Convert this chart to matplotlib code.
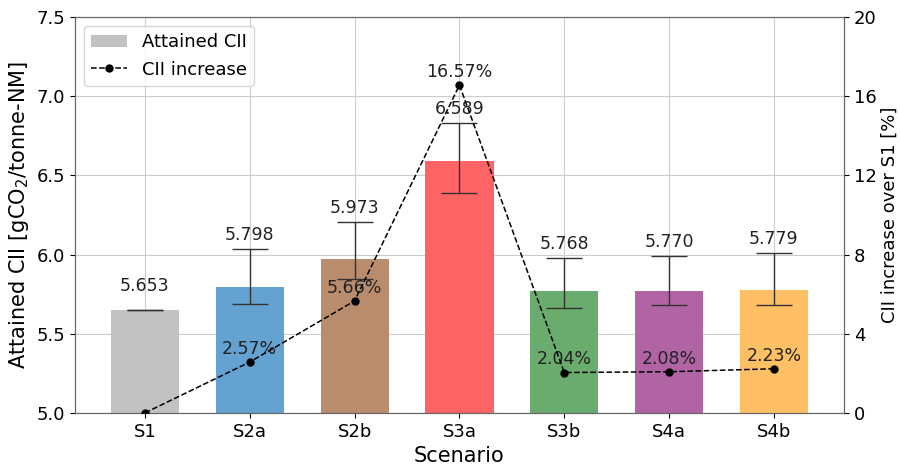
import numpy as np
import matplotlib
matplotlib.use('Agg')
import matplotlib.pyplot as plt

# ── Data ─────────────────────────────────────────
scenarios = ['S1', 'S2a', 'S2b', 'S3a', 'S3b', 'S4a', 'S4b']
cii_mean = [5.653, 5.798, 5.973, 6.589, 5.768, 5.770, 5.779]
err_low = [0.0, 0.110, 0.127, 0.200, 0.105, 0.088, 0.097]
err_high = [0.0, 0.237, 0.233, 0.242, 0.211, 0.221, 0.231]
cii_increase = [0.0, 2.57, 5.66, 16.57, 2.04, 2.08, 2.23]

bar_colors = ['#c2c2c2', '#64a2d2', '#b98c6e', '#ff6464', '#6aab6e', '#b064a4', '#ffbf64']

x = np.arange(len(scenarios))

fig, ax = plt.subplots(figsize=(9, 4.66), dpi=100)
fig.subplots_adjust(left=0.083, right=0.938, top=0.963, bottom=0.114)

bars = ax.bar(x, cii_mean, width=0.65, color=bar_colors, label='Attained CII', zorder=2)
ax.errorbar(x, cii_mean, yerr=[err_low, err_high], fmt='none', ecolor='#333333',
            elinewidth=1, capsize=13, capthick=1, zorder=3)

# value labels above the error bars
for xi, val, eh in zip(x, cii_mean, err_high):
    ax.text(xi, val + max(eh, 0.06) + 0.03, f'{val:.3f}', ha='center', va='bottom',
            fontsize=12.5, color='#222222', zorder=4)

ax.set_ylim(5.0, 7.5)
ax.set_yticks(np.arange(5.0, 7.51, 0.5))
ax.set_xticks(x)
ax.set_xticklabels(scenarios, fontsize=13)
ax.tick_params(axis='y', labelsize=13)
ax.set_xlim(-0.67, len(scenarios) - 0.33)
ax.set_xlabel('Scenario', fontsize=15)
ax.set_ylabel('Attained CII [gCO$_2$/tonne-NM]', fontsize=15)
ax.grid(True, color='#cccccc', linewidth=0.8, zorder=0)
ax.set_axisbelow(True)

# secondary axis: relative increase over S1
ax2 = ax.twinx()
line, = ax2.plot(x, cii_increase, linestyle='--', color='black', marker='o',
                 markersize=5, linewidth=1.1, label='CII increase', zorder=5)
ax2.set_ylim(0, 20)
ax2.set_yticks(np.arange(0, 21, 4))
ax2.tick_params(axis='y', labelsize=13)
ax2.set_ylabel('CII increase over S1 [%]', fontsize=13, labelpad=3)

for xi, pct in zip(x[1:], cii_increase[1:]):
    ax2.annotate(f'{pct:.2f}%', (xi, pct), xytext=(0, 3), textcoords='offset points',
                 ha='center', va='bottom', fontsize=12.5, color='#222222')

for spine in list(ax.spines.values()) + list(ax2.spines.values()):
    spine.set_color('#666666')

handles = [bars, line]
ax.legend(handles, [h.get_label() for h in handles], loc='upper left', fontsize=13)

fig.savefig('out.png', dpi=100)
